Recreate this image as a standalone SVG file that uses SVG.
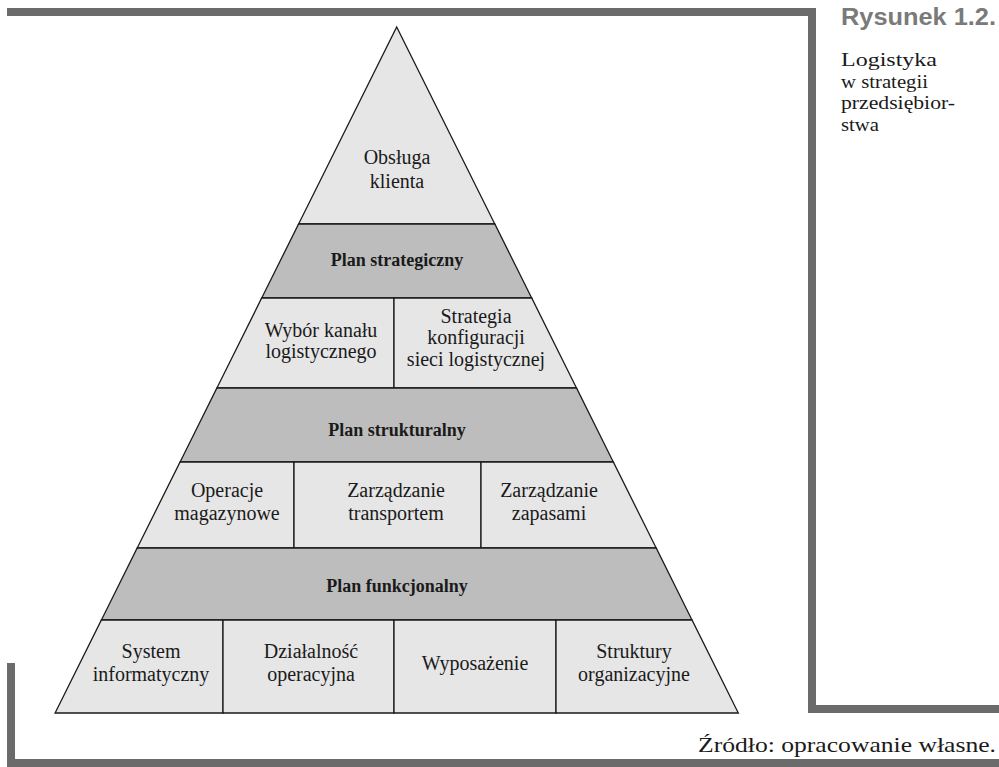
<svg xmlns="http://www.w3.org/2000/svg" width="999" height="767" viewBox="0 0 999 767">
<style>
.frame{fill:#6b6b6b}
.cell{fill:#e6e6e6;stroke:#1a1a1a;stroke-width:1.3;stroke-linejoin:miter}
.band{fill:#bdbdbd;stroke:#1a1a1a;stroke-width:1.3}
.t{font-family:"Liberation Serif","Times New Roman",serif;font-size:20px;fill:#1a1a1a;text-anchor:middle}
.b{font-family:"Liberation Serif","Times New Roman",serif;font-size:18px;font-weight:bold;fill:#1a1a1a;text-anchor:middle}
.cap{font-family:"Liberation Serif","Times New Roman",serif;font-size:19px;fill:#1a1a1a}
.src{font-family:"Liberation Serif","Times New Roman",serif;font-size:21px;fill:#1a1a1a}
.fig{font-family:"Liberation Sans",Arial,sans-serif;font-size:23px;font-weight:bold;fill:#7a7a7a}
</style>
<rect width="999" height="767" fill="#ffffff"/>
<g id="frame">
<rect class="frame" x="7" y="8" width="809" height="8"/>
<rect class="frame" x="808" y="8" width="8" height="705"/>
<rect class="frame" x="808" y="705" width="191" height="8"/>
<rect class="frame" x="7" y="663" width="8" height="104"/>
<rect class="frame" x="7" y="759" width="992" height="8"/>
</g>
<g id="caption">
<text class="fig" x="841" y="25" textLength="155" lengthAdjust="spacingAndGlyphs">Rysunek 1.2.</text>
<text class="cap" x="841" y="66" textLength="96" lengthAdjust="spacingAndGlyphs">Logistyka</text>
<text class="cap" x="841" y="87.5" textLength="87" lengthAdjust="spacingAndGlyphs">w strategii</text>
<text class="cap" x="841" y="109" textLength="114" lengthAdjust="spacingAndGlyphs">przedsiębior-</text>
<text class="cap" x="841" y="130.5" textLength="38" lengthAdjust="spacingAndGlyphs">stwa</text>
</g>
<g id="obsluga-klienta">
<polygon class="cell" points="396.7,27 494.8,224 298.6,224"/>
<text class="t" x="397" y="164">Obsługa</text>
<text class="t" x="397" y="188">klienta</text>
</g>
<g id="plan-strategiczny">
<polygon class="band" points="298.6,224 494.8,224 531.7,298 261.7,298"/>
<text class="b" x="397" y="266">Plan strategiczny</text>
</g>
<g id="wybor-kanalu">
<polygon class="cell" points="261.7,298 394,298 394,388 216.9,388"/>
<text class="t" x="321" y="337">Wybór kanału</text>
<text class="t" x="321" y="358">logistycznego</text>
</g>
<g id="strategia-konfiguracji">
<polygon class="cell" points="394,298 531.7,298 576.5,388 394,388"/>
<text class="t" x="476" y="323">Strategia</text>
<text class="t" x="476" y="344">konfiguracji</text>
<text class="t" x="476" y="366">sieci logistycznej</text>
</g>
<g id="plan-strukturalny">
<polygon class="band" points="216.9,388 576.5,388 613.3,462 180.1,462"/>
<text class="b" x="397" y="436">Plan strukturalny</text>
</g>
<g id="operacje-magazynowe">
<polygon class="cell" points="180.1,462 294,462 294,548 137.2,548"/>
<text class="t" x="227" y="497">Operacje</text>
<text class="t" x="227" y="520">magazynowe</text>
</g>
<g id="zarzadzanie-transportem">
<polygon class="cell" points="294,462 481,462 481,548 294,548"/>
<text class="t" x="396" y="497">Zarządzanie</text>
<text class="t" x="396" y="520">transportem</text>
</g>
<g id="zarzadzanie-zapasami">
<polygon class="cell" points="481,462 613.3,462 656.2,548 481,548"/>
<text class="t" x="549" y="497">Zarządzanie</text>
<text class="t" x="549" y="520">zapasami</text>
</g>
<g id="plan-funkcjonalny">
<polygon class="band" points="137.2,548 656.2,548 692,620 101.4,620"/>
<text class="b" x="397" y="592">Plan funkcjonalny</text>
</g>
<g id="system-informatyczny">
<polygon class="cell" points="101.4,620 223,620 223,713 55.1,713"/>
<text class="t" x="151" y="658">System</text>
<text class="t" x="151" y="681">informatyczny</text>
</g>
<g id="dzialalnosc-operacyjna">
<polygon class="cell" points="223,620 394,620 394,713 223,713"/>
<text class="t" x="311" y="658">Działalność</text>
<text class="t" x="311" y="681">operacyjna</text>
</g>
<g id="wyposazenie">
<polygon class="cell" points="394,620 556,620 556,713 394,713"/>
<text class="t" x="475" y="670">Wyposażenie</text>
</g>
<g id="struktury-organizacyjne">
<polygon class="cell" points="556,620 692,620 738.3,713 556,713"/>
<text class="t" x="634" y="658">Struktury</text>
<text class="t" x="634" y="681">organizacyjne</text>
</g>
<g id="connectors"></g>
<g id="source">
<text class="src" x="996" y="752" text-anchor="end" textLength="298" lengthAdjust="spacingAndGlyphs">Źródło: opracowanie własne.</text>
</g>
</svg>
